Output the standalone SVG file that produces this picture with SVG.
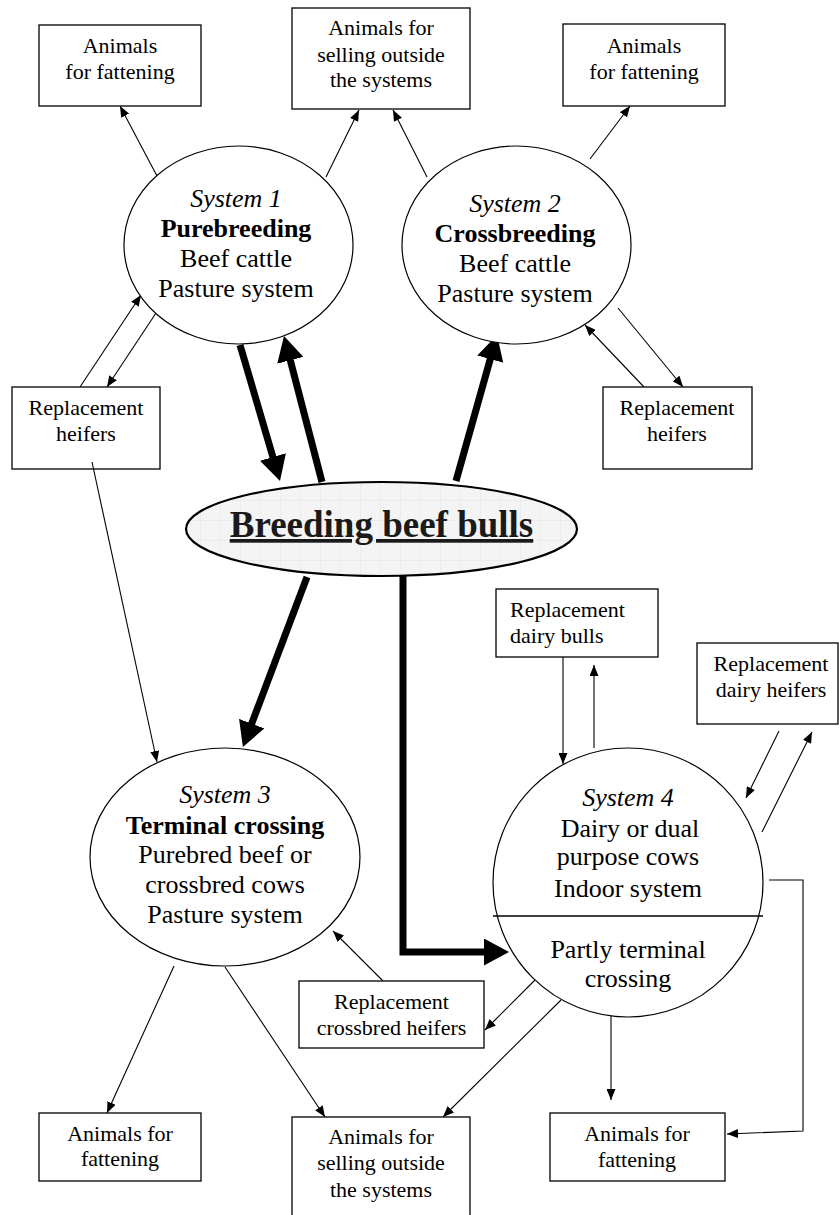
<svg xmlns="http://www.w3.org/2000/svg" width="839" height="1215" viewBox="0 0 839 1215">
<style>
  .box { fill: #fff; stroke: #000; stroke-width: 1.3; }
  .ell { fill: #fff; stroke: #000; stroke-width: 1.2; }
  .thin { fill: none; stroke: #000; stroke-width: 1.1; marker-end: url(#arr); }
  .thick { fill: none; stroke: #000; stroke-width: 7; stroke-linejoin: miter; marker-end: url(#big); }
</style>
<defs>
  <marker id="arr" markerUnits="userSpaceOnUse" markerWidth="11" markerHeight="9" refX="11" refY="4.5" orient="auto">
    <path d="M0,0 L11,4.5 L0,9 z" fill="#000"/>
  </marker>
  <marker id="big" markerUnits="userSpaceOnUse" markerWidth="25" markerHeight="27" refX="2" refY="13.5" orient="auto">
    <path d="M0,0 L25,13.5 L0,27 z" fill="#000"/>
  </marker>
  <pattern id="grid" patternUnits="userSpaceOnUse" width="20" height="20">
    <rect width="20" height="20" fill="#f4f4f4"/>
    <path d="M20,0 L0,0 L0,20" fill="none" stroke="#e4e4e4" stroke-width="1"/>
  </pattern>
</defs>
<rect width="839" height="1215" fill="#fff"/>

<g id="connectors">
  <line class="thick" x1="240" y1="345" x2="273.5" y2="458.9"/>
  <line class="thick" x1="322" y1="482" x2="289.8" y2="358.3"/>
  <line class="thick" x1="456" y1="481" x2="490.8" y2="357.2"/>
  <line class="thick" x1="307" y1="577" x2="251" y2="725.5"/>
  <polyline class="thick" points="403,576 403,952 486,952"/>
  <line class="thin" x1="157" y1="176" x2="120" y2="106"/>
  <line class="thin" x1="326" y1="177" x2="359" y2="110"/>
  <line class="thin" x1="427" y1="177" x2="393" y2="110"/>
  <line class="thin" x1="590" y1="159" x2="630" y2="106"/>
  <line class="thin" x1="80" y1="387" x2="141" y2="295"/>
  <line class="thin" x1="158" y1="310" x2="107" y2="387"/>
  <line class="thin" x1="644" y1="387" x2="585" y2="325"/>
  <line class="thin" x1="618" y1="308" x2="683" y2="387"/>
  <line class="thin" x1="92" y1="462" x2="157" y2="762"/>
  <line class="thin" x1="563" y1="657" x2="563" y2="764"/>
  <line class="thin" x1="594" y1="748" x2="594" y2="665"/>
  <line class="thin" x1="779" y1="731" x2="746" y2="798"/>
  <line class="thin" x1="762" y1="832" x2="812" y2="732"/>
  <polyline class="thin" points="769,880 803,880 803,1131 727,1134"/>
  <line class="thin" x1="611" y1="999" x2="611" y2="1100"/>
  <line class="thin" x1="535" y1="980" x2="485" y2="1030"/>
  <line class="thin" x1="561" y1="1000" x2="443" y2="1117"/>
  <line class="thin" x1="383" y1="981" x2="333" y2="931"/>
  <line class="thin" x1="174" y1="966" x2="107" y2="1113"/>
  <line class="thin" x1="225" y1="967" x2="325" y2="1117"/>
</g>

<g id="fattening-top-left" font-family="Liberation Serif" font-size="22" text-anchor="middle">
  <rect class="box" x="39" y="25" width="162" height="81"/>
  <text x="120" y="53">Animals</text>
  <text x="120" y="79">for fattening</text>
</g>

<g id="selling-top" font-family="Liberation Serif" font-size="22" text-anchor="middle">
  <rect class="box" x="292" y="8" width="178" height="101"/>
  <text x="381" y="35">Animals for</text>
  <text x="381" y="62">selling outside</text>
  <text x="381" y="87">the systems</text>
</g>

<g id="fattening-top-right" font-family="Liberation Serif" font-size="22" text-anchor="middle">
  <rect class="box" x="563" y="24" width="162" height="82"/>
  <text x="644" y="53">Animals</text>
  <text x="644" y="79">for fattening</text>
</g>

<g id="system1" font-family="Liberation Serif" font-size="26" text-anchor="middle">
  <ellipse class="ell" cx="238.5" cy="245" rx="114.5" ry="99"/>
  <text x="236" y="207" font-style="italic">System 1</text>
  <text x="236" y="237" font-weight="bold">Purebreeding</text>
  <text x="236" y="267">Beef cattle</text>
  <text x="236" y="297">Pasture system</text>
</g>

<g id="system2" font-family="Liberation Serif" font-size="26" text-anchor="middle">
  <ellipse class="ell" cx="516.5" cy="245" rx="114.5" ry="99"/>
  <text x="515" y="212" font-style="italic">System 2</text>
  <text x="515" y="242" font-weight="bold">Crossbreeding</text>
  <text x="515" y="272">Beef cattle</text>
  <text x="515" y="302">Pasture system</text>
</g>

<g id="heifers-left" font-family="Liberation Serif" font-size="22" text-anchor="middle">
  <rect class="box" x="12" y="387" width="148" height="82" fill="none" style="fill:none"/>
  <text x="86" y="415">Replacement</text>
  <text x="86" y="441">heifers</text>
</g>

<g id="heifers-right" font-family="Liberation Serif" font-size="22" text-anchor="middle">
  <rect class="box" x="603" y="387" width="149" height="82"/>
  <text x="677" y="415">Replacement</text>
  <text x="677" y="441">heifers</text>
</g>

<g id="breeding-bulls" font-family="Liberation Serif">
  <ellipse cx="381.5" cy="529" rx="195.5" ry="47" fill="url(#grid)" stroke="#000" stroke-width="2.2"/>
  <text x="381.5" y="537" font-size="37" font-weight="bold" text-anchor="middle" text-decoration="underline" fill="#1a1a1a">Breeding beef bulls</text>
</g>

<g id="dairy-bulls" font-family="Liberation Serif" font-size="22">
  <rect class="box" x="496" y="589" width="162" height="68"/>
  <text x="510" y="617">Replacement</text>
  <text x="510" y="643">dairy bulls</text>
</g>

<g id="dairy-heifers" font-family="Liberation Serif" font-size="22" text-anchor="middle">
  <rect class="box" x="697" y="643" width="141" height="81"/>
  <text x="771" y="671">Replacement</text>
  <text x="771" y="697">dairy heifers</text>
</g>

<g id="system3" font-family="Liberation Serif" font-size="26" text-anchor="middle">
  <ellipse class="ell" cx="225" cy="857" rx="135" ry="109"/>
  <text x="225" y="803" font-style="italic">System 3</text>
  <text x="225" y="834" font-weight="bold">Terminal crossing</text>
  <text x="225" y="863">Purebred beef or</text>
  <text x="225" y="893">crossbred cows</text>
  <text x="225" y="923">Pasture system</text>
</g>

<g id="system4" font-family="Liberation Serif" font-size="26" text-anchor="middle">
  <ellipse class="ell" cx="628" cy="882.5" rx="135" ry="134.5"/>
  <line x1="493" y1="916" x2="763" y2="916" stroke="#000" stroke-width="1.3"/>
  <text x="628" y="806" font-style="italic">System 4</text>
  <text x="630" y="837">Dairy or dual</text>
  <text x="628" y="865">purpose cows</text>
  <text x="628" y="897">Indoor system</text>
  <text x="628" y="958">Partly terminal</text>
  <text x="628" y="987">crossing</text>
</g>

<g id="crossbred-heifers" font-family="Liberation Serif" font-size="22" text-anchor="middle">
  <rect class="box" x="299" y="981" width="185" height="67"/>
  <text x="391.5" y="1009">Replacement</text>
  <text x="391.5" y="1035">crossbred heifers</text>
</g>

<g id="fattening-bottom-left" font-family="Liberation Serif" font-size="22" text-anchor="middle">
  <rect class="box" x="39" y="1113" width="162" height="68"/>
  <text x="120" y="1141">Animals for</text>
  <text x="120" y="1166">fattening</text>
</g>

<g id="selling-bottom" font-family="Liberation Serif" font-size="22" text-anchor="middle">
  <rect class="box" x="292" y="1117" width="178" height="110"/>
  <text x="381" y="1144">Animals for</text>
  <text x="381" y="1170">selling outside</text>
  <text x="381" y="1197">the systems</text>
</g>

<g id="fattening-bottom-right" font-family="Liberation Serif" font-size="22" text-anchor="middle">
  <rect class="box" x="550" y="1113" width="175" height="68"/>
  <text x="637" y="1141">Animals for</text>
  <text x="637" y="1167">fattening</text>
</g>
</svg>
